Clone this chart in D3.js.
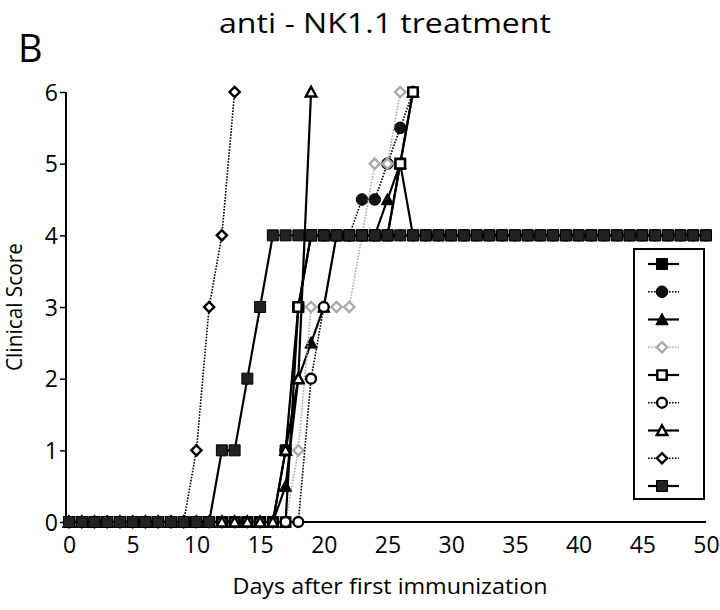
<!DOCTYPE html>
<html><head><meta charset="utf-8">
<script src="https://cdn.jsdelivr.net/npm/d3@7"></script>
<style>body{margin:0;background:#fff}svg{display:block}text{font-family:"Open Sans","Noto Sans",sans-serif;fill:#000}</style>
</head><body><svg id="c" width="720" height="610"></svg>
<script>
const title = "anti - NK1.1 treatment";
const panel = "B";
const xTitle = "Days after first immunization";
const yTitle = "Clinical Score";
const xTicks = [0,5,10,15,20,25,30,35,40,45,50];
const yTicks = [0,1,2,3,4,5,6];
const days = [0,1,2,3,4,5,6,7,8,9,10,11,12,13,14,15,16,17,18,19,20,21,22,23,24,25,26,27,28,29,30,31,32,33,34,35,36,37,38,39,40,41,42,43,44,45,46,47,48,49,50];
const N = null;
const s1 = [0,0,0,0,0,0,0,0,0,0,0,0,0,0,0,0,0,1,3,4,4,4,4,4,4,4,5,4,4,4,4,4,4,4,4,4,4,4,4,4,4,4,4,4,4,4,4,4,4,4,4];
const s2 = [0,0,0,0,0,0,0,0,0,0,0,0,0,0,0,0,0,1,3,4,4,4,4,4.5,4.5,5,5.5,6,N,N,N,N,N,N,N,N,N,N,N,N,N,N,N,N,N,N,N,N,N,N,N];
const s3 = [0,0,0,0,0,0,0,0,0,0,0,0,0,0,0,0,0,0.5,2,2.5,3,4,4,4,4,4.5,5,6,N,N,N,N,N,N,N,N,N,N,N,N,N,N,N,N,N,N,N,N,N,N,N];
const s4 = [0,0,0,0,0,0,0,0,0,0,0,0,0,0,0,0,0,0,1,3,3,3,3,4,5,5,6,N,N,N,N,N,N,N,N,N,N,N,N,N,N,N,N,N,N,N,N,N,N,N,N];
const s5 = [0,0,0,0,0,0,0,0,0,0,0,0,0,0,0,0,0,0,3,4,4,4,4,4,4,4,5,6,N,N,N,N,N,N,N,N,N,N,N,N,N,N,N,N,N,N,N,N,N,N,N];
const s6 = [0,0,0,0,0,0,0,0,0,0,0,0,0,0,0,0,0,0,0,2,3,4,4,4,4,4,4,4,4,4,4,4,4,4,4,4,4,4,4,4,4,4,4,4,4,4,4,4,4,4,4];
const s7 = [0,0,0,0,0,0,0,0,0,0,0,0,0,0,0,0,0,1,2,6,N,N,N,N,N,N,N,N,N,N,N,N,N,N,N,N,N,N,N,N,N,N,N,N,N,N,N,N,N,N,N];
const s8 = [0,0,0,0,0,0,0,0,0,0,1,3,4,6,N,N,N,N,N,N,N,N,N,N,N,N,N,N,N,N,N,N,N,N,N,N,N,N,N,N,N,N,N,N,N,N,N,N,N,N,N];
const s9 = [0,0,0,0,0,0,0,0,0,0,0,0,1,1,2,3,4,4,4,4,4,4,4,4,4,4,4,4,4,4,4,4,4,4,4,4,4,4,4,4,4,4,4,4,4,4,4,4,4,4,4];
const seriesValues = [s1,s2,s3,s4,s5,s6,s7,s8,s9];
const shapes = ["square","circle","triangle","diamond","square","circle","triangle","diamond","square"];
const fills  = ["#000","#111","#000","#fff","#fff","#fff","#fff","#fff","#222"];
const strokes= ["#000","#000","#000","#aaa","#000","#000","#000","#000","#000"];
const dashed = [false,true,false,true,false,true,false,true,false];

const svg = d3.select("#c");
const x = d3.scaleLinear().domain([0,50]).range([69,706]);
const y = d3.scaleLinear().domain([0,6]).range([522,92]);
const FONT = "'Open Sans','Noto Sans',sans-serif";

function shapePath(s, open){
  const k = open ? 0.85 : 1;
  if (s==="square"){const h=5.5*k;return `M${-h},${-h}H${h}V${h}H${-h}Z`;}
  if (s==="circle"){const r=5.8*k;return `M${r},0A${r},${r} 0 1,1 ${-r},0A${r},${r} 0 1,1 ${r},0Z`;}
  if (s==="triangle"){const h=6.2*k;return `M0,${-h}L${h},${h*0.85}L${-h},${h*0.85}Z`;}
  const h=6*k; return `M0,${-h}L${h},0L0,${h}L${-h},0Z`;
}

// text
svg.append("text").attr("x",385).attr("y",33).attr("text-anchor","middle").attr("font-size",27)
  .attr("textLength",332).attr("lengthAdjust","spacingAndGlyphs").text(title);
svg.append("text").attr("x",18).attr("y",62).attr("font-size",38).text(panel);
svg.append("text").attr("x",390).attr("y",594).attr("text-anchor","middle").attr("font-size",22)
  .attr("textLength",315).attr("lengthAdjust","spacingAndGlyphs").text(xTitle);
svg.append("text").attr("transform","translate(22,307) rotate(-90)").attr("text-anchor","middle").attr("font-size",21)
  .attr("textLength",128).attr("lengthAdjust","spacingAndGlyphs").text(yTitle);

// y axis
const ya = svg.append("g").attr("transform","translate(66,0)")
  .call(d3.axisLeft(y).tickValues(yTicks).tickSize(6).tickFormat(d3.format("d")));
ya.select(".domain").attr("stroke","#000").attr("stroke-width",2).attr("d","M0,92V522");
ya.selectAll(".tick line").attr("stroke","#000").attr("stroke-width",1.5);
ya.selectAll(".tick text").attr("font-size",23).attr("font-family",FONT).attr("x",-8).attr("dy","0.36em");

// x axis
const xa = svg.append("g").attr("transform","translate(0,522)")
  .call(d3.axisBottom(x).tickValues(xTicks).tickSize(0).tickFormat(d3.format("d")));
xa.select(".domain").attr("stroke","#000").attr("stroke-width",2).attr("d","M66,0H706");
xa.selectAll(".tick text").attr("font-size",23).attr("font-family",FONT).attr("y",15);

// series
const line = d3.line().defined(d=>d[1]!==null).x(d=>x(d[0])).y(d=>y(d[1]));
seriesValues.forEach((vals,i)=>{
  const pts = days.map((d,j)=>[d,vals[j]]).filter(p=>p[1]!==null);
  const g = svg.append("g");
  g.append("path").datum(pts).attr("d",line).attr("fill","none")
    .attr("stroke", strokes[i]).attr("stroke-width", dashed[i]?1.6:2.2)
    .attr("stroke-dasharray", dashed[i]?"1.6,1.4":null);
  const open = fills[i]==="#fff";
  g.selectAll("path.m").data(pts).join("path").attr("class","m")
    .attr("transform",p=>`translate(${x(p[0])},${y(p[1])})`)
    .attr("d",shapePath(shapes[i],open))
    .attr("fill",fills[i]).attr("stroke",strokes[i]).attr("stroke-width",open?2.4:1);
});

// legend
const lg = svg.append("g");
lg.append("rect").attr("x",634).attr("y",249).attr("width",70).attr("height",250)
  .attr("fill","#fff").attr("stroke","#000").attr("stroke-width",2);
const ly = d3.scalePoint().domain(d3.range(seriesValues.length)).range([264,486]);
seriesValues.forEach((v,i)=>{
  const yy = ly(i);
  lg.append("line").attr("x1",648).attr("x2",679).attr("y1",yy).attr("y2",yy)
    .attr("stroke",strokes[i]).attr("stroke-width",dashed[i]?1.6:2.2)
    .attr("stroke-dasharray",dashed[i]?"1.6,1.4":null);
  const open = fills[i]==="#fff";
  lg.append("path").attr("transform",`translate(662,${yy})`).attr("d",shapePath(shapes[i],open))
    .attr("fill",fills[i]).attr("stroke",strokes[i]).attr("stroke-width",open?2.4:1);
});
</script></body></html>
